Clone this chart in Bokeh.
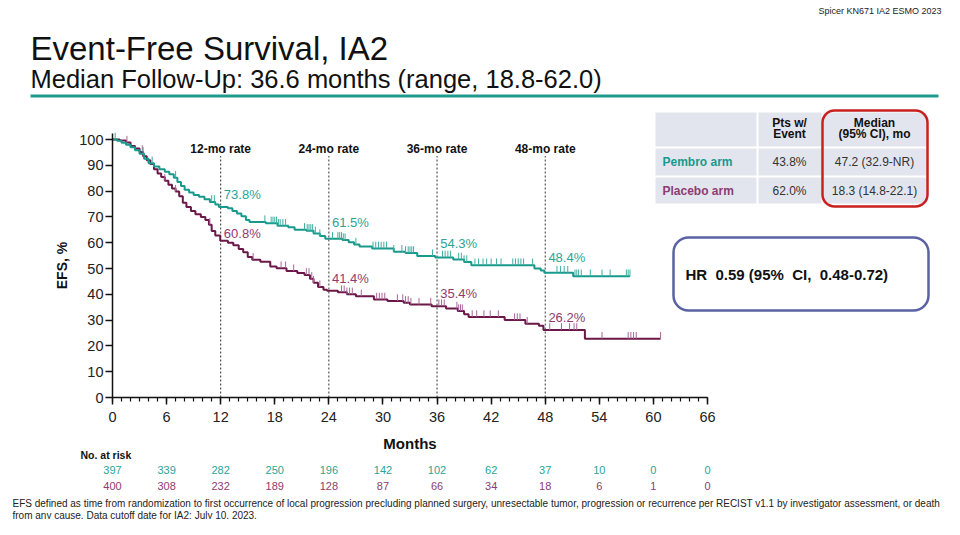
import numpy as np
from bokeh.plotting import figure
from bokeh.models import (Label, LabelSet, BoxAnnotation, ColumnDataSource, FixedTicker,
                          LinearAxis, Range1d)
from bokeh.core.properties import value
from bokeh.embed import file_html
from bokeh.resources import INLINE

# ---------------- data ----------------
pembro_t = [0, 0.5, 1.0, 1.5, 2.0, 2.5, 3.0, 3.5, 4.0, 4.6, 5.2, 5.8, 6.3, 6.8, 7.2, 7.6, 8.0, 8.5,
            9.0, 9.6, 10.2, 10.8, 11.4, 11.8, 12.8, 13.3, 13.8, 14.3, 14.8, 15.2, 17.0, 18.3, 19.5,
            20.2, 21.5, 22.3, 23.0, 23.6, 25.5, 26.2, 26.8, 27.4, 28.8, 31.2, 32.5, 33.8, 35.8,
            37.8, 39.0, 39.8, 46.8, 47.5, 47.9, 51.1, 57.4]
pembro_s = [100, 99.5, 98.7, 98.0, 97.0, 95.8, 94.5, 92.5, 90.8, 89.5, 88.5, 87.5, 86.5, 85.2, 83.5,
            82.0, 80.5, 79.5, 78.5, 77.8, 76.8, 75.8, 74.8, 73.8, 73.4, 72.3, 71.3, 70.3, 68.8, 68.0,
            67.5, 66.6, 66.0, 65.0, 64.6, 63.6, 62.6, 61.5, 61.0, 60.2, 59.3, 58.5, 57.8, 56.5, 56.0,
            54.8, 54.3, 53.5, 52.5, 51.3, 50.0, 49.2, 48.4, 47.0, 47.0]
placebo_t = [0, 0.8, 1.5, 2.0, 2.5, 3.0, 3.4, 3.8, 4.2, 4.6, 5.0, 5.4, 5.8, 6.2, 6.6, 7.0, 7.4, 7.8,
             8.2, 8.7, 9.2, 9.8, 10.3, 10.7, 11.0, 11.4, 11.95, 12.8, 13.4, 14.0, 14.5, 15.0, 15.5,
             16.4, 17.5, 18.2, 19.3, 20.5, 21.3, 21.9, 22.3, 22.8, 23.4, 23.8, 25.0, 26.0, 27.0,
             29.0, 30.5, 32.3, 33.0, 35.4, 37.0, 38.3, 39.0, 39.5, 43.5, 45.8, 47.3, 47.8, 52.4, 60.8]
placebo_s = [100, 99.6, 98.8, 97.5, 96.5, 95.2, 93.5, 92.0, 90.5, 88.5, 86.8, 85.5, 84.0, 82.5, 81.0,
             79.8, 78.0, 75.5, 73.8, 72.3, 71.0, 70.0, 68.8, 67.0, 64.5, 62.8, 60.8, 60.0, 59.0, 57.6,
             56.3, 54.5, 53.4, 52.6, 50.8, 50.1, 49.0, 48.3, 47.5, 46.0, 44.5, 42.8, 41.8, 41.4, 40.8,
             40.0, 39.2, 38.0, 37.4, 36.7, 36.0, 35.4, 34.5, 33.5, 32.3, 31.2, 30.0, 28.6, 27.8, 26.2,
             22.8, 22.8]
pembro_censor = [0.3, 3.4, 4.4, 7.0, 11.0, 11.3, 16.9, 17.6, 17.8, 18.0, 18.2, 18.4, 18.6, 18.9, 19.2,
                 21.3, 21.6, 21.8, 22.0, 22.2, 22.5, 23.0, 24.4, 25.0, 25.2, 25.4, 25.6, 25.8, 27.0,
                 28.9, 29.2, 29.5, 29.8, 30.1, 30.4, 31.2, 32.1, 32.5, 32.8, 33.0, 33.2, 33.4, 35.5,
                 36.6, 36.9, 37.2, 37.5, 38.4, 38.7, 39.0, 39.3, 40.2, 40.6, 41.1, 41.5, 42.0, 42.6,
                 43.1, 44.4, 44.7, 45.0, 45.3, 45.6, 46.6, 49.3, 49.7, 50.1, 50.5, 51.3, 51.5, 51.7,
                 52.0, 53.0, 54.3, 55.2, 57.0, 57.2, 57.4]
placebo_censor = [1.6, 3.3, 5.8, 7.0, 10.8, 15.6, 18.7, 19.2, 20.1, 21.5, 21.8, 22.1, 22.3, 23.0, 25.4,
                  25.7, 26.0, 26.3, 26.6, 27.6, 29.3, 29.6, 29.9, 30.2, 31.6, 32.2, 32.5, 32.8, 33.1,
                  34.0, 35.3, 36.2, 36.5, 36.8, 38.2, 38.4, 38.6, 38.8, 39.9, 40.4, 41.2, 41.9, 42.8,
                  44.6, 44.9, 45.2, 46.0, 48.5, 49.8, 50.7, 51.2, 51.5, 54.3, 57.2, 57.5, 57.8, 58.1, 60.8]
rate_months = [12, 24, 36, 48]
rate_titles = ["12-mo rate", "24-mo rate", "36-mo rate", "48-mo rate"]
pembro_rates = [73.8, 61.5, 54.3, 48.4]
placebo_rates = [60.8, 41.4, 35.4, 26.2]
risk_months = [0, 6, 12, 18, 24, 30, 36, 42, 48, 54, 60, 66]
pembro_risk = [397, 339, 282, 250, 196, 142, 102, 62, 37, 10, 0, 0]
placebo_risk = [400, 308, 232, 189, 128, 87, 66, 34, 18, 6, 1, 0]
x_ticks = list(range(0, 67, 6))
y_ticks = list(range(0, 101, 10))
arm_names = ["Pembro arm", "Placebo arm"]
pts_event = ["43.8%", "62.0%"]
median_ci = ["47.2 (32.9-NR)", "18.3 (14.8-22.1)"]

# ---------------- layout positions (label placement only) ----------------
pembro_label_y = [78.6, 68.0, 59.8, 54.2]
placebo_label_y = [63.4, 46.1, 40.3, 31.2]

TEAL = "#179a8c"
TEAL_T = "#2aa597"
TEAL_C = "#3faea1"
MAROON = "#6b1747"
MAROON_T = "#8e3b70"
MAROON_C = "#a9669a"
FONT = "Liberation Sans"

W, H = 944, 519
# plot area geometry (pixels): origin at (112, 397), 66 months over 595 px, 100 % over 258 px
X0, Y0, KX, KY = 112, 397, 595 / 66, 258 / 100
p = figure(width=W, height=H,
           x_range=Range1d(-X0 / KX, (W - X0) / KX),
           y_range=Range1d(-(H - Y0) / KY, Y0 / KY),
           x_axis_location=None, y_axis_location=None,
           output_backend="svg", toolbar_location=None, min_border=0)
p.outline_line_color = None
p.grid.visible = False
p.background_fill_color = "white"
p.border_fill_color = "white"

xaxis = LinearAxis(fixed_location=0, bounds=(0, 66),
                   ticker=FixedTicker(ticks=x_ticks, minor_ticks=list(range(0, 67))),
                   axis_label="Months")
yaxis = LinearAxis(fixed_location=0, bounds=(0, 102.3),
                   ticker=FixedTicker(ticks=y_ticks, minor_ticks=[]),
                   axis_label="EFS, %")
for ax in (xaxis, yaxis):
    ax.axis_line_width = 1.5
    ax.axis_line_color = "#111"
    ax.major_tick_line_width = 1.5
    ax.major_tick_line_color = "#111"
    ax.major_tick_in = 0
    ax.major_tick_out = 7
    ax.major_label_text_font = FONT
    ax.major_label_text_font_size = "14.5px"
    ax.major_label_text_color = "#222"
    ax.axis_label_text_font = FONT
    ax.axis_label_text_font_style = "bold"
    ax.axis_label_text_color = "#111"
xaxis.minor_tick_in = 0
xaxis.minor_tick_out = 4
xaxis.minor_tick_line_width = 1.2
xaxis.minor_tick_line_color = "#111"
xaxis.major_label_standoff = 7
xaxis.axis_label_text_font_size = "15px"
xaxis.axis_label_standoff = 10
yaxis.minor_tick_line_color = None
yaxis.major_label_standoff = 2
yaxis.axis_label_text_font_size = "14px"
yaxis.axis_label_standoff = 6
p.add_layout(xaxis, "below")
p.add_layout(yaxis, "left")

# landmark dotted lines and titles
p.segment(x0=rate_months, y0=[0] * 4, x1=rate_months, y1=[93.6] * 4,
          line_color="#333", line_width=1, line_dash="2 2")
p.text(x=rate_months, y=[96.4] * 4, text=rate_titles, text_align="center", text_baseline="middle",
       text_font=value(FONT), text_font_size="12px", text_font_style="bold", text_color="#111")

# KM curves
def step_at(ts, ss, t):
    i = np.searchsorted(np.array(ts), np.array(t), side="right") - 1
    return np.array(ss)[i]

p.step(x=placebo_t, y=placebo_s, mode="after", line_color=MAROON, line_width=2)
p.step(x=pembro_t, y=pembro_s, mode="after", line_color=TEAL, line_width=2)
ps = step_at(placebo_t, placebo_s, placebo_censor)
p.segment(x0=placebo_censor, y0=ps, x1=placebo_censor, y1=ps + 2.6, line_color=MAROON_C, line_width=1)
ts_ = step_at(pembro_t, pembro_s, pembro_censor)
p.segment(x0=pembro_censor, y0=ts_, x1=pembro_censor, y1=ts_ + 2.6, line_color=TEAL_C, line_width=1)

# rate labels
lx = [m + 0.35 for m in rate_months]
p.text(x=lx, y=pembro_label_y, text=[f"{v:.1f}%" for v in pembro_rates], text_baseline="middle",
       text_font=value(FONT), text_font_size="13px", text_color=TEAL_T)
p.text(x=lx, y=placebo_label_y, text=[f"{v:.1f}%" for v in placebo_rates], text_baseline="middle",
       text_font=value(FONT), text_font_size="13px", text_color=MAROON_T)

# ---------------- screen-coordinate helpers (canvas px from top-left -> screen units) ----------------
def sx(px):
    return px
def sy(py):
    return H - py

def lab(x, y, text, size, color="#111", bold=False, align="left", baseline="middle"):
    p.add_layout(Label(x=sx(x), y=sy(y), x_units="screen", y_units="screen", text=text,
                       text_font=FONT, text_font_size=size, text_color=color,
                       text_font_style="bold" if bold else "normal",
                       text_align=align, text_baseline=baseline, level="overlay"))

def box(l, t, r, b, fill=None, line=None, lw=0, radius=0):
    p.add_layout(BoxAnnotation(left=sx(l), right=sx(r), top=sy(t), bottom=sy(b),
                               left_units="screen", right_units="screen",
                               top_units="screen", bottom_units="screen",
                               fill_color=fill, fill_alpha=1 if fill else 0,
                               line_color=line, line_width=lw, line_alpha=1 if line else 0,
                               border_radius=radius,
                               level="underlay" if fill else "overlay"))

# header
lab(941, 10, "Spicer KN671 IA2 ESMO 2023", "9px", "#222", align="right")
lab(30, 48, "Event-Free Survival, IA2", "33px", "#111")
lab(30, 78, "Median Follow-Up: 36.6 months (range, 18.8-62.0)", "25.5px", "#111")
box(30, 94, 938, 97, fill="#1f9a8e")

# table
CELL = "#e2e5ee"
cols = [(655, 756), (758, 821), (823, 926)]
rows = [(112, 146), (148, 175), (177, 203)]
for (t, b) in rows:
    for (l, r) in cols:
        box(l, t, r, b, fill=CELL)
lab(789, 122.5, "Pts w/", "12px", "#111", bold=True, align="center")
lab(789, 133.5, "Event", "12px", "#111", bold=True, align="center")
lab(874, 122.5, "Median", "12px", "#111", bold=True, align="center")
lab(874, 133.5, "(95% CI), mo", "12px", "#111", bold=True, align="center")
row_y = [161, 190]
arm_colors = [TEAL, MAROON_T]
for i in range(2):
    lab(662, row_y[i], arm_names[i], "12px", arm_colors[i], bold=True)
    lab(789, row_y[i], pts_event[i], "12px", "#333", align="center")
    lab(874, row_y[i], median_ci[i], "12px", "#333", align="center")
box(822, 110, 927, 206, line="#c8201e", lw=2.5, radius=12)

# HR box
box(673, 237, 928, 310, line="#5a62a3", lw=2.5, radius=15)
lab(685, 274, "HR\u00a0 0.59 (95%\u00a0 CI,\u00a0 0.48-0.72)", "15px", "#111", bold=True)

# numbers at risk
lab(80, 454, "No. at risk", "10.5px", "#111", bold=True)
src_p = ColumnDataSource(dict(x=risk_months, y=[sy(469)] * len(risk_months), t=[str(v) for v in pembro_risk]))
src_c = ColumnDataSource(dict(x=risk_months, y=[sy(485)] * len(risk_months), t=[str(v) for v in placebo_risk]))
p.add_layout(LabelSet(x="x", y="y", text="t", source=src_p, x_units="data", y_units="screen",
                      text_align="center", text_baseline="middle", text_font=value(FONT),
                      text_font_size="11px", text_color=TEAL_T))
p.add_layout(LabelSet(x="x", y="y", text="t", source=src_c, x_units="data", y_units="screen",
                      text_align="center", text_baseline="middle", text_font=value(FONT),
                      text_font_size="11px", text_color=MAROON_T))

# footnote
lab(12, 503, "EFS defined as time from randomization to first occurrence of local progression precluding planned surgery, "
             "unresectable tumor, progression or recurrence per RECIST v1.1 by investigator assessment, or death",
    "10px", "#222")
lab(12, 514.5, "from any cause. Data cutoff date for IA2: July 10, 2023.", "10px", "#222")

open("out.html", "w").write(file_html(p, INLINE))
